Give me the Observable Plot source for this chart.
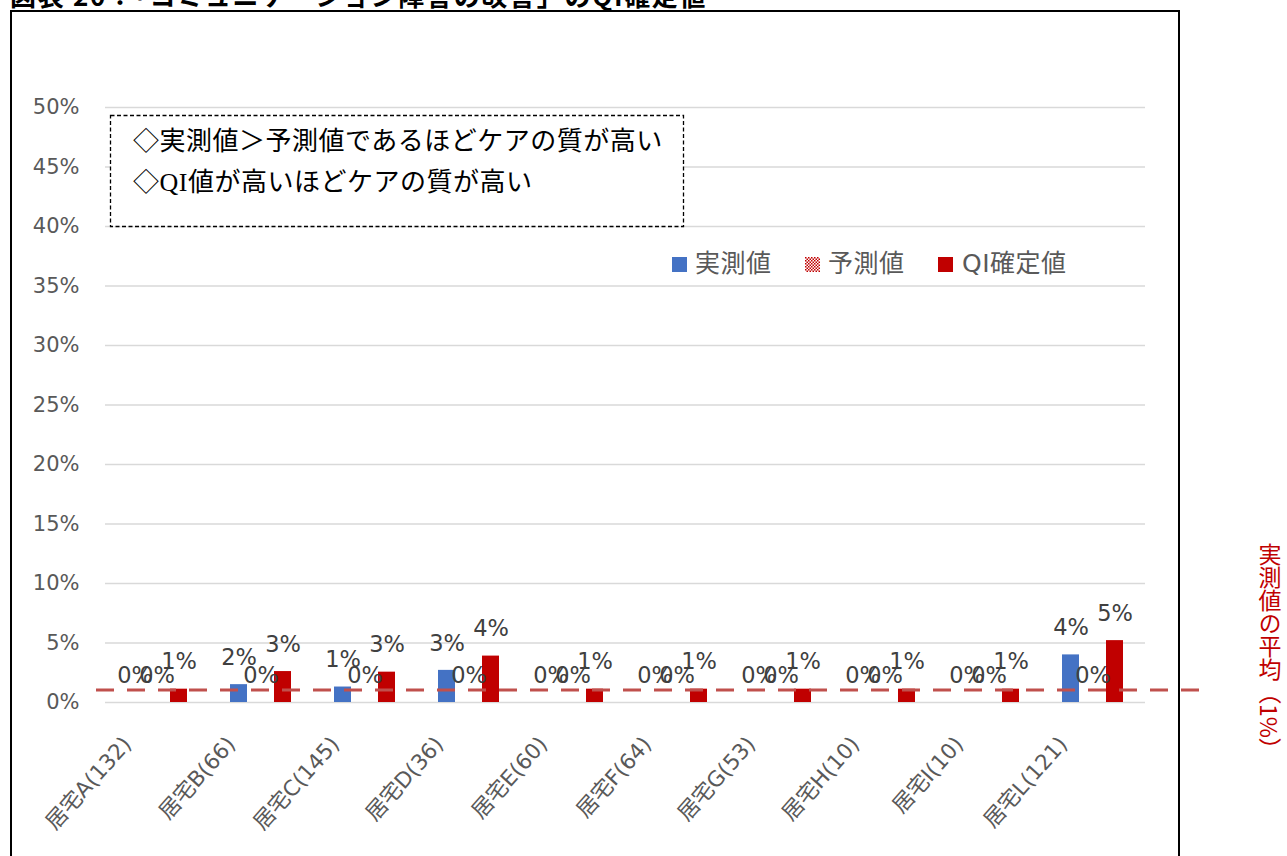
<!DOCTYPE html>
<html><head><meta charset="utf-8">
<script src="https://cdn.jsdelivr.net/npm/d3@7"></script>
<script src="https://cdn.jsdelivr.net/npm/@observablehq/plot@0.6"></script>
<style>
body{margin:0;background:#fff;}
#wrap{position:relative;width:1287px;height:856px;overflow:hidden;font-family:"DejaVu Sans","Noto Sans CJK JP",sans-serif;}
#title{position:absolute;left:10px;top:-18px;font-size:26px;line-height:26px;font-weight:bold;font-family:"Noto Sans CJK JP",sans-serif;white-space:nowrap;color:#000;letter-spacing:1.7px;}
#frame{position:absolute;left:10px;top:10px;width:1166px;height:900px;border:2px solid #000;}
#chart{position:absolute;left:0;top:0;}
.noteLine{position:absolute;left:133px;font-size:26px;line-height:26px;letter-spacing:0.5px;font-family:"Liberation Serif","Noto Sans CJK JP",serif;color:#000;white-space:nowrap;}
.sw{position:absolute;top:257px;width:15px;height:15px;}
.lt{position:absolute;top:249px;font-size:25px;line-height:30px;letter-spacing:0.5px;color:#595959;white-space:nowrap;font-family:"DejaVu Sans","Noto Sans CJK JP",sans-serif;}
#vert{position:absolute;left:1256px;top:543px;writing-mode:vertical-rl;font-size:23px;line-height:28px;color:#c00000;font-family:"Noto Sans CJK JP",sans-serif;white-space:nowrap;}
</style></head><body>
<div id="wrap">
  <div id="frame"></div>
  <div id="title"></div>
  <div id="chart"></div>
  <div class="noteLine" id="note1" style="top:129px"></div>
  <div class="noteLine" id="note2" style="top:170px"></div>
  <div id="legend"></div>
  <div id="vert"></div>
</div>
<script>
const titleText = "図表 20：「コミュニケーション障害の改善」のQI確定値";
const noteLines = ["◇実測値＞予測値であるほどケアの質が高い", "◇QI値が高いほどケアの質が高い"];
const categories = ["居宅A(132)","居宅B(66)","居宅C(145)","居宅D(36)","居宅E(60)","居宅F(64)","居宅G(53)","居宅H(10)","居宅I(10)","居宅L(121)"];
const series = ["実測値","予測値","QI確定値"];
const seriesColors = ["#4472c4","url(#predPat)","#c00000"];
const actual    = [0, 0.015, 0.013, 0.027, 0, 0, 0, 0, 0, 0.040];
const predicted = [0, 0, 0, 0, 0, 0, 0, 0, 0, 0];
const qi        = [0.0112, 0.026, 0.0255, 0.039, 0.0112, 0.0112, 0.0112, 0.0112, 0.0112, 0.052];
const yTicks = [0, 0.05, 0.10, 0.15, 0.20, 0.25, 0.30, 0.35, 0.40, 0.45, 0.50];
const meanActual = 0.01;
const meanLabel = "実測値の平均（1%）";

document.getElementById("title").textContent = titleText;
document.getElementById("note1").textContent = noteLines[0];
document.getElementById("note2").textContent = noteLines[1];
document.getElementById("vert").textContent = meanLabel;

const values = [actual, predicted, qi];
const data = categories.flatMap((c, i) => series.map((s, j) => ({cat: c, s, v: values[j][i]})));
const pct = d3.format(".0%");

const chart = Plot.plot({
  width: 1287, height: 856,
  marginLeft: 102, marginRight: 139, marginTop: 107, marginBottom: 154,
  style: {fontFamily: '"DejaVu Sans","Noto Sans CJK JP",sans-serif', background: "transparent", overflow: "visible"},
  fx: {domain: categories, padding: 0, label: null},
  x: {domain: series, paddingInner: 0.217, paddingOuter: 0.883, axis: null},
  y: {domain: [0, 0.5], label: null},
  color: {domain: series, range: seriesColors},
  marks: [
    Plot.gridY(yTicks, {stroke: "#d9d9d9", strokeOpacity: 1, strokeWidth: 1.5}),
    Plot.axisY(yTicks, {tickFormat: pct, tickSize: 0, tickPadding: 26, fontSize: 21, fill: "#595959", label: null}),
    Plot.axisFx({anchor: "bottom", tickRotate: -48, tickSize: 0, tickPadding: 38, dx: -30, fontSize: 21.5, fill: "#595959", label: null}),
    Plot.barY(data, {fx: "cat", x: "s", y: "v", fill: "s"}),
    Plot.text(data, {fx: "cat", x: "s", y: "v", text: d => pct(d.v), dy: -27, fontSize: 22.5, fill: "#404040"})
  ]
});

const ns = "http://www.w3.org/2000/svg";
const defs = document.createElementNS(ns, "defs");
defs.innerHTML = '<pattern id="predPat" width="4" height="4" patternUnits="userSpaceOnUse"><rect width="4" height="4" fill="#fff"/><rect width="2" height="2" fill="#c00000"/><rect x="2" y="2" width="2" height="2" fill="#c00000"/></pattern>';
chart.insertBefore(defs, chart.firstChild);

// dashed note box
const box = document.createElementNS(ns, "rect");
box.setAttribute("x", 110.5); box.setAttribute("y", 115.5);
box.setAttribute("width", 573); box.setAttribute("height", 111);
box.setAttribute("fill", "#fff"); box.setAttribute("stroke", "#000");
box.setAttribute("stroke-width", 1.3); box.setAttribute("stroke-dasharray", "4,2.5");
chart.appendChild(box);

const yPix = chart.scale("y").apply(meanActual);
const line = document.createElementNS(ns, "line");
line.setAttribute("x1", 96); line.setAttribute("x2", 1207);
line.setAttribute("y1", yPix); line.setAttribute("y2", yPix);
line.setAttribute("stroke", "#c0504d"); line.setAttribute("stroke-width", 3);
line.setAttribute("stroke-dasharray", "18,13");
chart.appendChild(line);

document.getElementById("chart").appendChild(chart);

// legend
const legendPos = [{sw: 672, tx: 695}, {sw: 805, tx: 828}, {sw: 938, tx: 962}];
const legend = document.getElementById("legend");
series.forEach((s, j) => {
  let sw;
  if (j === 1) {
    sw = document.createElementNS(ns, "svg");
    sw.setAttribute("class", "sw");
    sw.setAttribute("width", 15); sw.setAttribute("height", 15);
    sw.innerHTML = '<defs><pattern id="predPat2" width="3" height="3" patternUnits="userSpaceOnUse"><rect width="3" height="3" fill="#fff"/><rect width="1.5" height="1.5" fill="#c00000"/><rect x="1.5" y="1.5" width="1.5" height="1.5" fill="#c00000"/></pattern></defs><rect width="15" height="15" fill="url(#predPat2)"/>';
  } else {
    sw = document.createElement("div");
    sw.className = "sw";
    sw.style.background = seriesColors[j];
  }
  sw.style.left = legendPos[j].sw + "px";
  legend.appendChild(sw);
  const t = document.createElement("div");
  t.className = "lt";
  t.style.left = legendPos[j].tx + "px";
  t.textContent = s;
  legend.appendChild(t);
});
</script>
</body></html>
